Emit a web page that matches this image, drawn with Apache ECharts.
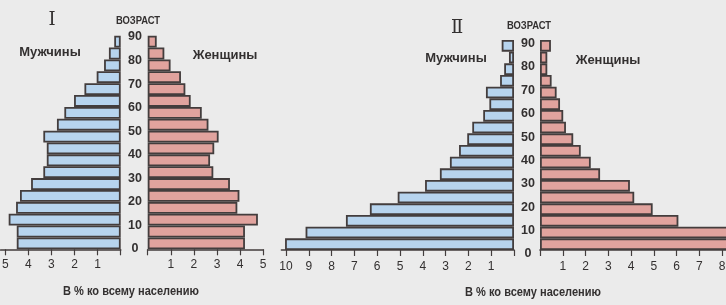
<!DOCTYPE html>
<html>
<head>
<meta charset="utf-8">
<script src="https://cdn.jsdelivr.net/npm/echarts@6/dist/echarts.min.js"></script>
<style>
  html, body { margin: 0; padding: 0; background: #ebebeb; }
  #chart { width: 726px; height: 305px; }
</style>
</head>
<body>
<div id="chart"></div>
<script>
// возрастные группы снизу вверх: 0-4 ... 85-89
const ageGroups = ['0-4', '5-9', '10-14', '15-19', '20-24', '25-29', '30-34', '35-39', '40-44',
  '45-49', '50-54', '55-59', '60-64', '65-69', '70-74', '75-79', '80-84', '85-89'];

// I — тип с низкой рождаемостью
const menI = [4.5, 4.5, 4.85, 4.53, 4.36, 3.88, 3.35, 3.2, 3.2, 3.35, 2.76, 2.44, 2.02, 1.57, 1.04, 0.72, 0.51, 0.28];
const womenI = [4.21, 4.21, 4.77, 3.88, 3.97, 3.56, 2.84, 2.7, 2.88, 3.07, 2.63, 2.34, 1.86, 1.63, 1.44, 0.99, 0.72, 0.39];

// II — тип с высокой рождаемостью
const menII = [10.04, 9.14, 7.37, 6.32, 5.1, 3.9, 3.25, 2.81, 2.41, 2.05, 1.83, 1.35, 1.08, 1.23, 0.61, 0.43, 0.22, 0.54];
const womenII = [8.6, 8.4, 6.08, 4.95, 4.14, 3.95, 2.64, 2.23, 1.79, 1.46, 1.14, 1.02, 0.88, 0.73, 0.51, 0.32, 0.32, 0.48];

const ageTicks = [0, 10, 20, 30, 40, 50, 60, 70, 80, 90];

const chart = echarts.init(document.getElementById('chart'));

const FONT = "'Liberation Sans', Arial, sans-serif";
const INK = '#333030';
const EDGE = '#433d3d';
const BLUE = '#b7d4ee';
const PINK = '#e1a39e';

const pctAxis = (gridIndex, max, inverse, margin, showMax) => ({
  type: 'value',
  gridIndex,
  min: 0,
  max,
  interval: 1,
  inverse,
  axisLine: { show: true, lineStyle: { color: EDGE, width: 1.6 } },
  axisTick: { show: true, length: 6, lineStyle: { color: EDGE, width: 1.2 } },
  axisLabel: {
    color: INK, fontFamily: FONT, fontSize: 12, margin,
    showMaxLabel: !!showMax,
    formatter: v => (v === 0 || v % 1 !== 0) ? '' : String(v)
  },
  splitLine: { show: false }
});

const ageCat = gridIndex => ({
  type: 'category', gridIndex, data: ageGroups, show: false
});

const bar = (name, data, idx, color) => ({
  name, type: 'bar', xAxisIndex: idx, yAxisIndex: idx, data,
  barCategoryGap: '0%',
  itemStyle: { color, borderColor: EDGE, borderWidth: 1.8 },
  silent: true
});

const ageLabels = gridIndex => ({
  type: 'value', gridIndex, min: 0, max: 90, interval: 10, position: 'left',
  axisLine: { show: false }, axisTick: { show: false }, splitLine: { show: false },
  axisLabel: {
    color: INK, fontFamily: FONT, fontSize: 12.5, fontWeight: 'bold',
    align: 'center', margin: 0
  },
  data: ageTicks
});

const g = (left, top, width, height) => ({ left, top, width, height, outerBoundsMode: 'none', containLabel: false });

const txt = (x, y, text, font, sx) => ({
  type: 'text', x, y, scaleX: sx || 1,
  style: { text, font, fill: INK, align: 'center', verticalAlign: 'middle' }
});

const option = {
  backgroundColor: '#ebebeb',
  animation: false,
  grid: [
    g(0.6, 35.7, 120.1, 213.6),   // I мужчины
    g(147.7, 35.7, 115.5, 213.6), // I женщины
    g(281.4, 40, 232.6, 210),     // II мужчины
    g(540, 40, 200, 210),         // II женщины
    g(135, 37, 1, 212),           // шкала возраста I
    g(528, 43.5, 1, 210.5)        // шкала возраста II
  ],
  xAxis: [
    pctAxis(0, 5.2, true, 9),
    pctAxis(1, 5, false, 9, true),
    pctAxis(2, 10.2, true, 11),
    pctAxis(3, 200 / 22.76, false, 11),
    { type: 'value', gridIndex: 4, min: 0, max: 1, show: false },
    { type: 'value', gridIndex: 5, min: 0, max: 1, show: false }
  ],
  yAxis: [
    ageCat(0), ageCat(1), ageCat(2), ageCat(3),
    ageLabels(4), ageLabels(5)
  ],
  series: [
    bar('Мужчины I', menI, 0, BLUE),
    bar('Женщины I', womenI, 1, PINK),
    bar('Мужчины II', menII, 2, BLUE),
    bar('Женщины II', womenII, 3, PINK)
  ],
  graphic: [
    txt(52, 20, 'Ⅰ', "18px 'DejaVu Serif', serif"),
    txt(457, 28, 'Ⅱ', "18px 'DejaVu Serif', serif"),
    txt(138, 21, 'ВОЗРАСТ', "bold 11.5px " + FONT, 0.82),
    txt(529, 26, 'ВОЗРАСТ', "bold 11.5px " + FONT, 0.82),
    txt(50, 52, 'Мужчины', "bold 13px " + FONT),
    txt(225, 55, 'Женщины', "bold 13px " + FONT),
    txt(456, 58, 'Мужчины', "bold 13px " + FONT),
    txt(608, 60, 'Женщины', "bold 13px " + FONT),
    txt(131, 292, 'В % ко всему населению', "bold 12px " + FONT, 0.92),
    txt(533, 293, 'В % ко всему населению', "bold 12px " + FONT, 0.92)
  ]
};

chart.setOption(option);
</script>
</body>
</html>
